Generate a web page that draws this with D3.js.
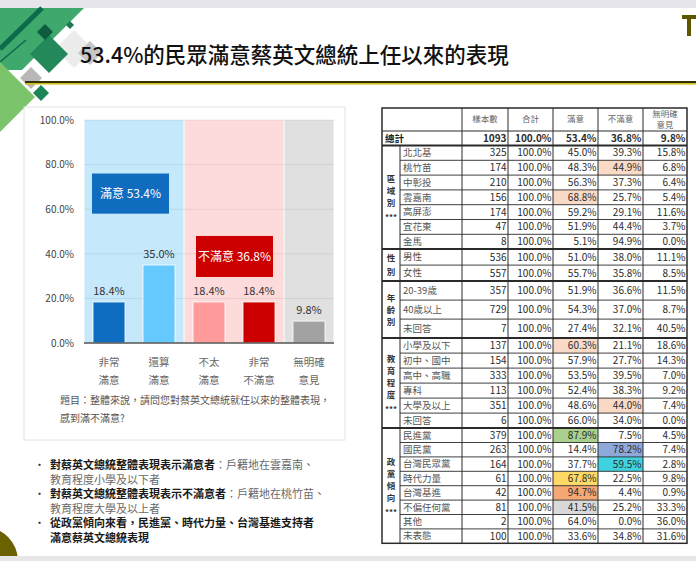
<!DOCTYPE html>
<html>
<head>
<meta charset="utf-8">
<script src="https://cdn.jsdelivr.net/npm/d3@7"></script>
<style>
  body { margin: 0; background: #fff; }
  svg { display: block; font-family: "Noto Sans CJK TC", "Noto Sans", sans-serif; }
</style>
</head>
<body>
<svg id="slide" width="696" height="561"></svg>
<script>
// ---- data ----
const titleText = "53.4%的民眾滿意蔡英文總統上任以來的表現";

const categories = ["非常滿意", "還算滿意", "不太滿意", "非常不滿意", "無明確意見"];
const categoryLines = [["非常", "滿意"], ["還算", "滿意"], ["不太", "滿意"], ["非常", "不滿意"], ["無明確", "意見"]];
const values = [18.4, 35.0, 18.4, 18.4, 9.8];
const yTicks = [0, 20, 40, 60, 80, 100];
const summaryLabels = ["滿意", "不滿意"];
const summaryValues = [53.4, 36.8];
const questionLines = ["題目：整體來說，請問您對蔡英文總統就任以來的整體表現，", "感到滿不滿意?"];

const bullets = [
  [["對蔡英文總統整體表現表示滿意者", "：戶籍地在雲嘉南、"], ["", "教育程度小學及以下者"]],
  [["對蔡英文總統整體表現表示不滿意者", "：戶籍地在桃竹苗、"], ["", "教育程度大學及以上者"]],
  [["從政黨傾向來看，民進黨、時代力量、台灣基進支持者", ""], ["滿意蔡英文總統表現", ""]]
];

const tableHead = [["樣本數"], ["合計"], ["滿意"], ["不滿意"], ["無明確", "意見"]];
const totalRow = ["總計", 1093, 100.0, 53.4, 36.8, 9.8];
const groupTitles = ["區域別", "性別", "年齡別", "教育程度", "政黨傾向"];
const groupSig = ["***", "", "", "***", "***"];
const regionRows = [
  ["北北基", 325, 100.0, 45.0, 39.3, 15.8],
  ["桃竹苗", 174, 100.0, 48.3, 44.9, 6.8],
  ["中彰投", 210, 100.0, 56.3, 37.3, 6.4],
  ["雲嘉南", 156, 100.0, 68.8, 25.7, 5.4],
  ["高屏澎", 174, 100.0, 59.2, 29.1, 11.6],
  ["宜花東", 47, 100.0, 51.9, 44.4, 3.7],
  ["金馬", 8, 100.0, 5.1, 94.9, 0.0]
];
const genderRows = [
  ["男性", 536, 100.0, 51.0, 38.0, 11.1],
  ["女性", 557, 100.0, 55.7, 35.8, 8.5]
];
const ageRows = [
  ["20-39歲", 357, 100.0, 51.9, 36.6, 11.5],
  ["40歲以上", 729, 100.0, 54.3, 37.0, 8.7],
  ["未回答", 7, 100.0, 27.4, 32.1, 40.5]
];
const eduRows = [
  ["小學及以下", 137, 100.0, 60.3, 21.1, 18.6],
  ["初中、國中", 154, 100.0, 57.9, 27.7, 14.3],
  ["高中、高職", 333, 100.0, 53.5, 39.5, 7.0],
  ["專科", 113, 100.0, 52.4, 38.3, 9.2],
  ["大學及以上", 351, 100.0, 48.6, 44.0, 7.4],
  ["未回答", 6, 100.0, 66.0, 34.0, 0.0]
];
const partyRows = [
  ["民進黨", 379, 100.0, 87.9, 7.5, 4.5],
  ["國民黨", 263, 100.0, 14.4, 78.2, 7.4],
  ["台灣民眾黨", 164, 100.0, 37.7, 59.5, 2.8],
  ["時代力量", 61, 100.0, 67.8, 22.5, 9.8],
  ["台灣基進", 42, 100.0, 94.7, 4.4, 0.9],
  ["不偏任何黨", 81, 100.0, 41.5, 25.2, 33.3],
  ["其他", 2, 100.0, 64.0, 0.0, 36.0],
  ["未表態", 100, 100.0, 33.6, 34.8, 31.6]
];
const groups = [regionRows, genderRows, ageRows, eduRows, partyRows];

// ---- styles ----
const barColors = ["#0f6dc1", "#66c9fe", "#ff9b9b", "#cc0000", "#a2a2a2"];
const bandDefs = [
  { from: 0, to: 1, fill: "#c5e8fb" },
  { from: 2, to: 3, fill: "#fddbdb" },
  { from: 4, to: 4, fill: "#e0e0e0" }
];
const boxDefs = [
  { at: 0, dx: 8, top: 76, bottom: 58, fill: "#0f6cbf" },
  { at: 2, dx: 12, top: 48, bottom: 29.6, fill: "#cc0000" }
];
// [group, row label, column (3 = 滿意, 4 = 不滿意 in the row array), colour]
const highlights = [
  [0, "桃竹苗", 4, "#f9dac6"],
  [0, "雲嘉南", 3, "#f9dac6"],
  [3, "小學及以下", 3, "#f9dac6"],
  [3, "大學及以上", 4, "#f9dac6"],
  [4, "民進黨", 3, "#a9d08e"],
  [4, "國民黨", 4, "#8fa8da"],
  [4, "台灣民眾黨", 4, "#3fd3e0"],
  [4, "時代力量", 3, "#ffd966"],
  [4, "台灣基進", 3, "#f4a873"],
  [4, "不偏任何黨", 3, "#d9d9d9"]
];

const svg = d3.select("#slide");

// ---- slide frame ----
svg.append("rect").attr("width", 696).attr("height", 561).attr("fill", "#fff");
svg.append("rect").attr("width", 696).attr("height", 8).attr("fill", "#e5e5eb");

function diamond(cx, cy, r) {
  return [[cx, cy - r], [cx + r, cy], [cx, cy + r], [cx - r, cy]].join(" ");
}
const deco = svg.append("g");
deco.append("polygon").attr("points", "0,8 84,8 22,70 0,70").attr("fill", "#3fa86d");
deco.append("line").attr("x1", 0).attr("y1", 49).attr("x2", 42).attr("y2", 8)
  .attr("stroke", "#0e6a4c").attr("stroke-width", 5);
deco.append("line").attr("x1", 0).attr("y1", 62).attr("x2", 26).attr("y2", 40)
  .attr("stroke", "#0e6a4c").attr("stroke-width", 1.5);
[[74, 49, 19, "#ececec"], [90, 53, 12, "#c6c6c6"], [31, 78, 11, "#b8b8b8"],
 [49, 54, 19, "#23895b"], [45, 32, 8, "#0d5c40"], [70, 25, 4, "#1a7a55"],
 [0, 97, 35, "#7cc46b"], [41, 93, 8, "#1d8556"]].forEach(d => {
  deco.append("polygon").attr("points", diamond(d[0], d[1], d[2])).attr("fill", d[3]);
});

svg.append("text").attr("x", 80).attr("y", 63)
  .attr("font-size", 21.5).attr("font-weight", 500).attr("fill", "#111")
  .text(titleText);
svg.append("rect").attr("x", 25).attr("y", 81).attr("width", 671).attr("height", 2).attr("fill", "#34320c");
svg.append("rect").attr("x", 25).attr("y", 83).attr("width", 671).attr("height", 1.5).attr("fill", "#cdbd10");

// logo fragment, top right
svg.append("rect").attr("x", 682).attr("y", 15).attr("width", 14).attr("height", 4).attr("fill", "#5e5700");
svg.append("rect").attr("x", 687).attr("y", 15).attr("width", 4).attr("height", 21).attr("fill", "#5e5700");

// ---- chart panel ----
svg.append("rect").attr("x", 24).attr("y", 107).attr("width", 321).attr("height", 333)
  .attr("fill", "#fff").attr("stroke", "#e2e2e2");

const x = d3.scaleBand().domain(categories).range([84, 334]);
const y = d3.scaleLinear().domain([0, 100]).range([343, 120]);
const bw = x.bandwidth();
const chart = svg.append("g");

chart.selectAll(".band").data(bandDefs).enter().append("rect")
  .attr("x", d => x(categories[d.from]) + 0.5)
  .attr("width", d => x(categories[d.to]) + bw - x(categories[d.from]) - 1)
  .attr("y", y(100)).attr("height", y(0) - y(100))
  .attr("fill", d => d.fill);

chart.selectAll(".grid").data(yTicks.filter(t => t > 0)).enter().append("line")
  .attr("x1", 84).attr("x2", 334).attr("y1", d => y(d)).attr("y2", d => y(d))
  .attr("stroke", "rgba(0,0,0,0.07)");

const yAxis = chart.append("g").attr("transform", "translate(84,0)")
  .call(d3.axisLeft(y).tickValues(yTicks).tickFormat(d => d.toFixed(1) + "%").tickSize(0).tickPadding(10));
yAxis.select(".domain").remove();
yAxis.selectAll("text").attr("font-size", 10).attr("fill", "#444")
  .attr("font-family", "\"Noto Sans CJK TC\", sans-serif");

const barW = 32;
chart.selectAll(".bar").data(values).enter().append("rect")
  .attr("x", (d, i) => x(categories[i]) + (bw - barW) / 2)
  .attr("width", barW)
  .attr("y", d => y(d)).attr("height", d => y(0) - y(d))
  .attr("fill", (d, i) => barColors[i])
  .attr("stroke", "rgba(255,255,255,0.55)").attr("stroke-width", 1.5);

chart.selectAll(".vlabel").data(values).enter().append("text")
  .attr("x", (d, i) => x(categories[i]) + bw / 2)
  .attr("y", d => y(d) - 7)
  .attr("text-anchor", "middle").attr("font-size", 11).attr("fill", "#333")
  .text(d => d.toFixed(1) + "%");

chart.append("line").attr("x1", 84).attr("x2", 334).attr("y1", y(0)).attr("y2", y(0))
  .attr("stroke", "#555").attr("stroke-width", 1.5);

categoryLines.forEach((lines, i) => {
  lines.forEach((t, j) => {
    chart.append("text").attr("x", x(categories[i]) + bw / 2).attr("y", 366 + j * 18)
      .attr("text-anchor", "middle").attr("font-size", 10.5).attr("fill", "#666").text(t);
  });
});

boxDefs.forEach((b, i) => {
  const bx = x(categories[b.at]) + b.dx;
  chart.append("rect").attr("x", bx).attr("y", y(b.top)).attr("width", 77)
    .attr("height", y(b.bottom) - y(b.top)).attr("fill", b.fill);
  chart.append("text").attr("x", bx + 38.5).attr("y", (y(b.top) + y(b.bottom)) / 2)
    .attr("dy", "0.35em").attr("text-anchor", "middle")
    .attr("font-size", 12).attr("fill", "#fff")
    .text(summaryLabels[i] + " " + summaryValues[i].toFixed(1) + "%");
});

questionLines.forEach((t, j) => {
  chart.append("text").attr("x", 60).attr("y", 404 + j * 18)
    .attr("font-size", 10).attr("fill", "#555").text(t);
});

// ---- bullets ----
const notes = svg.append("g").attr("font-size", 11);
bullets.forEach((item, i) => {
  item.forEach((line, j) => {
    const ly = 469 + (i * 2 + j) * 14.6;
    if (j === 0) notes.append("text").attr("x", 34).attr("y", ly).attr("fill", "#333").text("•");
    const t = notes.append("text").attr("x", 50).attr("y", ly);
    if (line[0]) t.append("tspan").attr("font-weight", 700).attr("fill", "#1a1a1a").text(line[0]);
    if (line[1]) t.append("tspan").attr("fill", "#6a6a6a").text(line[1]);
  });
});

svg.append("circle").attr("cx", -16).attr("cy", 561).attr("r", 34).attr("fill", "#6b6100");
svg.append("rect").attr("y", 556).attr("width", 696).attr("height", 5).attr("fill", "#e6e6e6");

// ---- table ----
const colX = [382, 400, 462, 508, 553, 598, 643, 687];
const tTop = 108, headBottom = 131, totalBottom = 145.5;
const groupRowH = [14.8, 16, 19, 15, 14.4];
const table = svg.append("g");
const lineColor = "#2a2a2a";
const fmtPct = v => v.toFixed(1) + "%";

// group layout
let cursor = totalBottom;
const groupLayout = groups.map((rows, gi) => {
  const top = cursor;
  const rowYs = rows.map((r, ri) => top + ri * groupRowH[gi]);
  cursor = top + rows.length * groupRowH[gi];
  return { top, bottom: cursor, rowYs, h: groupRowH[gi] };
});
const tBottom = cursor;

// highlight cells: row index k (1..5) sits between colX[k+1] and colX[k+2]
highlights.forEach(h => {
  const gl = groupLayout[h[0]];
  const ri = groups[h[0]].findIndex(r => r[0] === h[1]);
  const k = h[2];
  table.append("rect").attr("x", colX[k + 1]).attr("y", gl.rowYs[ri])
    .attr("width", colX[k + 2] - colX[k + 1]).attr("height", gl.h).attr("fill", h[3]);
});

// header
tableHead.forEach((lines, i) => {
  const cx = (colX[i + 2] + colX[i + 3]) / 2;
  lines.forEach((t, j) => {
    table.append("text").attr("x", cx).attr("y", (tTop + headBottom) / 2 + (j - (lines.length - 1) / 2) * 11)
      .attr("dy", "0.35em").attr("text-anchor", "middle")
      .attr("font-size", 8.5).attr("fill", "#666").text(t);
  });
});

function drawValues(row, cy, bold) {
  row.slice(1).forEach((v, k) => {
    table.append("text").attr("x", colX[k + 3] - 1.5).attr("y", cy).attr("dy", "0.35em")
      .attr("text-anchor", "end").attr("font-size", 10).attr("fill", "#2b2b2b")
      .attr("font-weight", bold ? 700 : 400)
      .text(k === 0 ? v : fmtPct(v));
  });
}

// total row
table.append("text").attr("x", 385).attr("y", (headBottom + totalBottom) / 2).attr("dy", "0.35em")
  .attr("font-size", 9.5).attr("font-weight", 700).attr("fill", "#222").text(totalRow[0]);
drawValues(totalRow, (headBottom + totalBottom) / 2, true);

// group rows
groupLayout.forEach((gl, gi) => {
  groups[gi].forEach((row, ri) => {
    const cy = gl.rowYs[ri] + gl.h / 2;
    table.append("text").attr("x", colX[1] + 3).attr("y", cy).attr("dy", "0.35em")
      .attr("font-size", 9.5).attr("fill", "#555").text(row[0]);
    drawValues(row, cy, false);
    if (ri > 0) {
      table.append("line").attr("x1", colX[1]).attr("x2", colX[7])
        .attr("y1", gl.rowYs[ri]).attr("y2", gl.rowYs[ri])
        .attr("stroke", lineColor).attr("stroke-width", 0.9);
    }
  });
  // vertical group title, one character per line
  const items = Array.from(groupTitles[gi]);
  if (groupSig[gi]) items.push(groupSig[gi]);
  const sp = gi === 1 ? 14 : 12;
  const mid = (gl.top + gl.bottom) / 2;
  items.forEach((ch, k) => {
    table.append("text").attr("x", (colX[0] + colX[1]) / 2)
      .attr("y", mid + (k - (items.length - 1) / 2) * sp + (ch === "***" ? 2 : 0))
      .attr("dy", "0.35em").attr("text-anchor", "middle")
      .attr("font-size", ch === "***" ? 8 : 8.5).attr("font-weight", 700).attr("fill", "#333")
      .text(ch);
  });
  if (gi > 0) {
    table.append("line").attr("x1", colX[0]).attr("x2", colX[7]).attr("y1", gl.top).attr("y2", gl.top)
      .attr("stroke", lineColor).attr("stroke-width", 2);
  }
});

// grid lines
table.append("line").attr("x1", colX[0]).attr("x2", colX[7]).attr("y1", headBottom).attr("y2", headBottom)
  .attr("stroke", lineColor).attr("stroke-width", 1);
table.append("line").attr("x1", colX[0]).attr("x2", colX[7]).attr("y1", totalBottom).attr("y2", totalBottom)
  .attr("stroke", lineColor).attr("stroke-width", 2);
table.append("line").attr("x1", colX[1]).attr("x2", colX[1]).attr("y1", totalBottom).attr("y2", tBottom)
  .attr("stroke", lineColor).attr("stroke-width", 1);
colX.slice(2, 7).forEach(cx => {
  table.append("line").attr("x1", cx).attr("x2", cx).attr("y1", tTop).attr("y2", tBottom)
    .attr("stroke", lineColor).attr("stroke-width", 1);
});
table.append("rect").attr("x", colX[0]).attr("y", tTop).attr("width", colX[7] - colX[0])
  .attr("height", tBottom - tTop).attr("fill", "none").attr("stroke", lineColor).attr("stroke-width", 1.5);
</script>
</body>
</html>
